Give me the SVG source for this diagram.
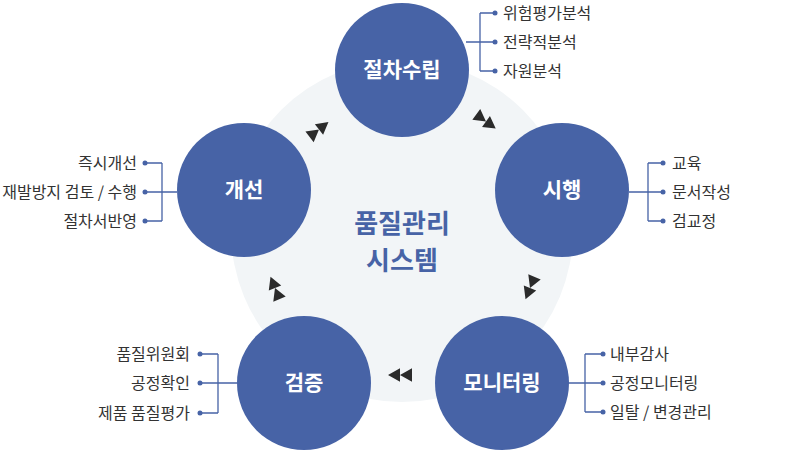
<svg xmlns="http://www.w3.org/2000/svg" width="800" height="456" viewBox="0 0 800 456">
<style>
.node{fill:#4763a6}
.nl{font-family:"Noto Sans CJK KR","Noto Sans",sans-serif;font-weight:700;font-size:21px;fill:#fff;text-anchor:middle}
.ct{font-family:"Noto Sans CJK KR","Noto Sans",sans-serif;font-weight:700;font-size:26px;fill:#4763a6;text-anchor:middle}
.it{font-family:"Noto Sans CJK KR","Noto Sans",sans-serif;font-size:16px;fill:#333}
.r{text-anchor:end}
.ln{fill:none;stroke:#4763a6;stroke-width:1.3}
.dot{fill:#4763a6}
.ar{fill:#2b2b2b}
</style>
<defs>
<g id="dbl"><path class="ar" d="M-12,0 L0,-6.7 L0,6.7 Z M0,0 L12,-6.7 L12,6.7 Z"/></g>
</defs>
<circle cx="402" cy="231" r="171" fill="#f2f5f7"/>
<g id="center"><text class="ct" x="402" y="233">품질관리</text><text class="ct" x="402" y="270">시스템</text></g>
<g id="connectors">
<path class="ln" d="M466,42 H480 M480,13 V71 M480,13 H495 M480,42 H495 M480,71 H495"/>
<path class="ln" d="M629,192 H648 M648,163 V221 M648,163 H663 M648,192 H663 M648,221 H663"/>
<path class="ln" d="M177,192 H162 M162,163 V221 M162,163 H145 M162,192 H145 M162,221 H145"/>
<path class="ln" d="M237,383 H218 M218,354 V413 M218,354 H200 M218,383 H200 M218,413 H200"/>
<path class="ln" d="M568,383 H585 M585,354 V412 M585,354 H603 M585,383 H603 M585,412 H603"/>
<g class="dot">
<circle cx="495" cy="13" r="2.5"/><circle cx="495" cy="42" r="2.5"/><circle cx="495" cy="71" r="2.5"/>
<circle cx="663" cy="163" r="2.5"/><circle cx="663" cy="192" r="2.5"/><circle cx="663" cy="221" r="2.5"/>
<circle cx="145" cy="163" r="2.5"/><circle cx="145" cy="192" r="2.5"/><circle cx="145" cy="221" r="2.5"/>
<circle cx="200" cy="354" r="2.5"/><circle cx="200" cy="383" r="2.5"/><circle cx="200" cy="413" r="2.5"/>
<circle cx="603" cy="354" r="2.5"/><circle cx="603" cy="383" r="2.5"/><circle cx="603" cy="412" r="2.5"/>
</g>
<use href="#dbl" transform="translate(400,375)"/>
<use href="#dbl" transform="translate(275,288) rotate(68)"/>
<use href="#dbl" transform="translate(319,129.5) rotate(142)"/>
<use href="#dbl" transform="translate(486,121.5) rotate(-144)"/>
<use href="#dbl" transform="translate(530,288) rotate(-68)"/>
</g>
<g id="n1"><circle class="node" cx="402" cy="70" r="67"/><text class="nl" x="402" y="77">절차수립</text>
<text class="it" x="503" y="19">위험평가분석</text><text class="it" x="503" y="48">전략적분석</text><text class="it" x="503" y="77">자원분석</text></g>
<g id="n2"><circle class="node" cx="562" cy="190" r="67"/><text class="nl" x="562" y="197">시행</text>
<text class="it" x="672" y="169">교육</text><text class="it" x="672" y="198">문서작성</text><text class="it" x="672" y="227">검교정</text></g>
<g id="n3"><circle class="node" cx="502" cy="383" r="67"/><text class="nl" x="502" y="390">모니터링</text>
<text class="it" x="610" y="360">내부감사</text><text class="it" x="610" y="389">공정모니터링</text><text class="it" x="610" y="418">일탈 / 변경관리</text></g>
<g id="n4"><circle class="node" cx="304" cy="383" r="67"/><text class="nl" x="304" y="390">검증</text>
<text class="it r" x="190" y="360">품질위원회</text><text class="it r" x="190" y="389">공정확인</text><text class="it r" x="190" y="419">제품 품질평가</text></g>
<g id="n5"><circle class="node" cx="244" cy="190" r="67"/><text class="nl" x="244" y="197">개선</text>
<text class="it r" x="137" y="169">즉시개선</text><text class="it r" x="137" y="198">재발방지 검토 / 수행</text><text class="it r" x="137" y="227">절차서반영</text></g>
</svg>
